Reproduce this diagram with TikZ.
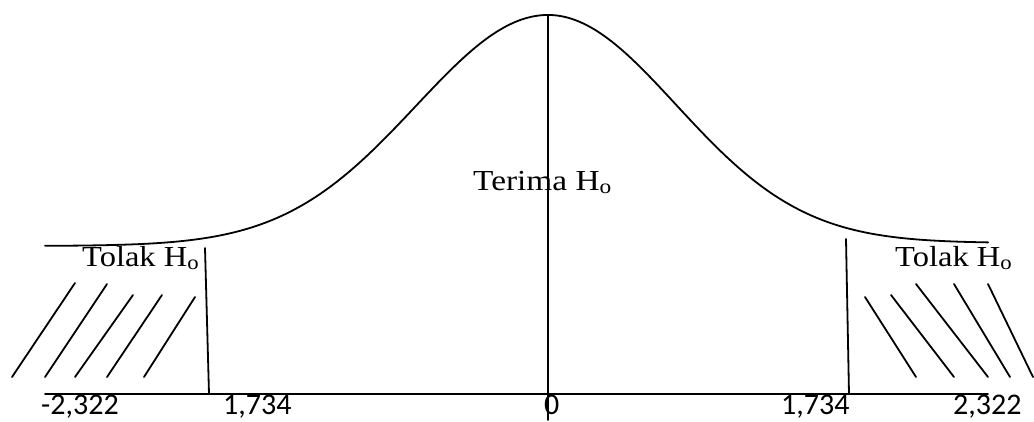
\documentclass[tikz,border=0pt]{standalone}
\usepackage{fontspec}
\setmainfont{Liberation Serif}
\newfontfamily\numfont{Carlito}
\begin{document}
\begin{tikzpicture}[x=1pt,y=-1pt,
  ln/.style={line width=1.8pt,line cap=round},
  lbl/.style={anchor=base west,inner sep=0pt,font=\fontsize{29}{31}\selectfont},
  num/.style={anchor=base west,inner sep=0pt,font=\numfont\fontsize{30}{32}\selectfont}]
\useasboundingbox (0,0) rectangle (1034,421);
% axis
\coordinate (axL) at (45,394);
\coordinate (axR) at (988,394);
\draw[ln] (axL) -- (axR);
% curve
\draw[ln,line join=round] plot[domain=45:548,samples=120] (\x,{246-231*exp(-0.5*((\x-548)/132)^2)})
  -- plot[domain=548:988,samples=110] (\x,{243-228*exp(-0.5*((\x-548)/128)^2)});
% vertical lines
\coordinate (cT) at (548,15);
\coordinate (cB) at (548,420);
\draw[ln] (cT) -- (cB);
\coordinate (lT) at (205,248);
\coordinate (lB) at (209,394);
\draw[ln] (lT) -- (lB);
\coordinate (rT) at (846,239);
\coordinate (rB) at (849,394);
\draw[ln] (rT) -- (rB);
% hatches left
\foreach \a/\b/\c/\d in {12/377/75/283, 45/377/107/284, 75/377/133/295, 107/377/162/295, 144/377/195/297}
  \draw[ln] (\a,\b) -- (\c,\d);
% hatches right
\foreach \a/\b/\c/\d in {865/297/916/377, 891/295/954/377, 916/284/988/377, 954/284/1010/377, 988/284/1033/377}
  \draw[ln] (\a,\b) -- (\c,\d);
% labels
\node[lbl] (tl) at (82,266) {\scalebox{1.12}[1]{Tolak H\textsubscript{o}}};
\node[lbl] (tr) at (895,266) {\scalebox{1.12}[1]{Tolak H\textsubscript{o}}};
\node[lbl] (tm) at (473,190) {\scalebox{1.15}[1]{Terima H\textsubscript{o}}};
\node[num] (n1) at (41,414) {-2,322};
\node[num] (n2) at (223,414) {1,734};
\node[num] (n3) at (544,414) {0};
\node[num] (n4) at (781,414) {1,734};
\node[num] (n5) at (953,414) {2,322};
\end{tikzpicture}
\end{document}
